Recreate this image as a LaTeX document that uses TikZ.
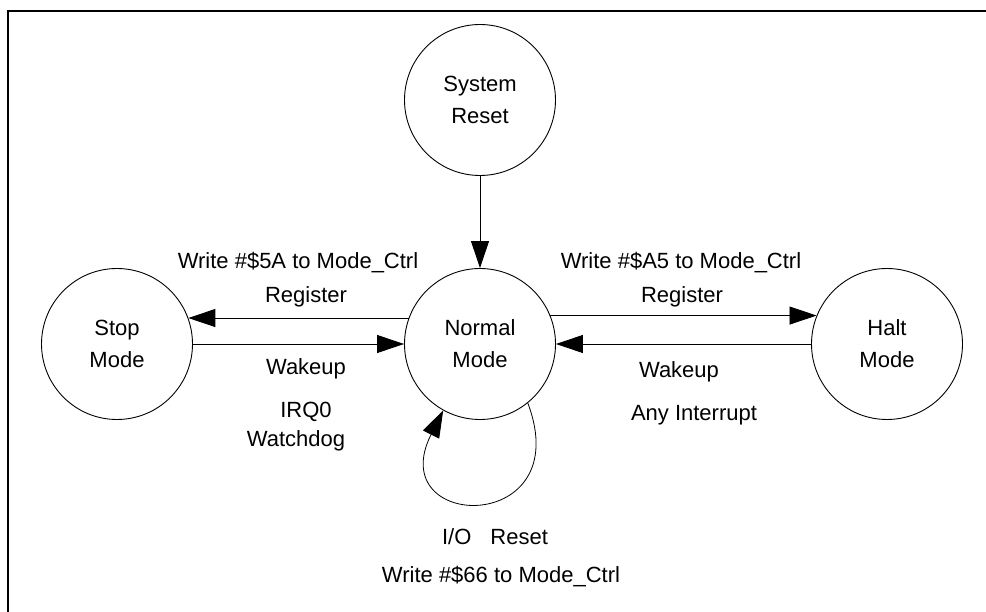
\documentclass[tikz,border=0pt]{standalone}
\usepackage{fontspec}
\setmainfont{Liberation Sans}
\usetikzlibrary{arrows.meta}
\begin{document}
\begin{tikzpicture}[x=1pt,y=-1pt,
  state/.style={circle, draw, line width=0.9pt, minimum size=151pt, inner sep=0pt,
    align=center, font=\fontsize{22}{32}\selectfont},
  lbl/.style={font=\fontsize{22}{26}\selectfont, inner sep=0pt},
  conn/.style={line width=0.8pt, draw=black,
    -{Triangle[length=27pt,width=18pt]}}]
\useasboundingbox (0,0) rectangle (986,612);
% frame
\draw[line width=2.2pt] (8,612) -- (8,11) -- (986,11);

% states
\node[state] (sys)    at (480,100) {System\\Reset};
\node[state] (normal) at (480,344) {Normal\\Mode};
\node[state] (stop)   at (117,344) {Stop\\Mode};
\node[state] (halt)   at (887,344) {Halt\\Mode};

% transitions
\draw[conn] (sys) -- (normal);
\draw[conn] (normal.160) -- (stop.20);
\draw[conn] (stop.0) -- (normal.180);
\draw[conn] (normal.22) -- (halt.158);
\draw[conn] (halt.180) -- (normal.0);
\draw[conn] (normal.-51) .. controls (578,536) and (382,532) .. (normal.-119);

% labels
\node[lbl] (l1) at (298,263) {Write \#\$5A to Mode\_Ctrl};
\node[lbl] (l2) at (306,297) {Register};
\node[lbl] (l3) at (306,369) {Wakeup};
\node[lbl] (l4) at (306,412) {IRQ0};
\node[lbl] (l5) at (296,441) {Watchdog};
\node[lbl] (r1) at (681,263) {Write \#\$A5 to Mode\_Ctrl};
\node[lbl] (r2) at (682,297) {Register};
\node[lbl] (r3) at (679,372) {Wakeup};
\node[lbl] (r4) at (694,415) {Any Interrupt};
\node[lbl] (b1) at (495,537) {I/O\hspace*{19pt}Reset};
\node[lbl] (b2) at (501,577) {Write \#\$66 to Mode\_Ctrl};
\end{tikzpicture}
\end{document}
